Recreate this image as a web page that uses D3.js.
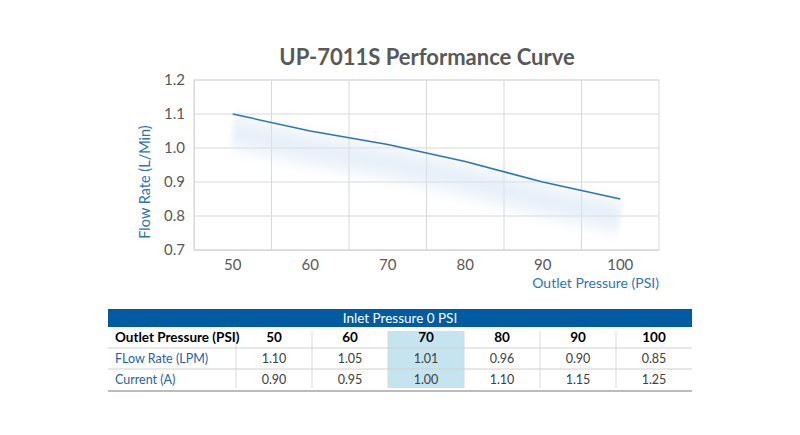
<!DOCTYPE html>
<html>
<head>
<meta charset="utf-8">
<script src="https://cdn.jsdelivr.net/npm/d3@7"></script>
<style>
  body { margin: 0; background: #fff; }
  text { font-family: Lato, "Open Sans", sans-serif; }
</style>
</head>
<body>
<svg id="chart" width="800" height="435"></svg>
<script>
// data
const pressures = [50, 60, 70, 80, 90, 100];
const flowRates = [1.10, 1.05, 1.01, 0.96, 0.90, 0.85];
const currents = [0.90, 0.95, 1.00, 1.10, 1.15, 1.25];
const yTicks = [0.7, 0.8, 0.9, 1.0, 1.1, 1.2];
const highlightPressure = 70;

const plot = {left: 194, right: 659, top: 80, bottom: 250};

const svg = d3.select('#chart');

// title
svg.append('text')
    .attr('x', 427).attr('y', 65)
    .attr('text-anchor', 'middle')
    .attr('font-size', 22).attr('font-weight', 'bold')
    .attr('fill', '#595959')
    .text('UP-7011S Performance Curve');

const x = d3.scaleBand()
    .domain(pressures)
    .range([plot.left, plot.right]);
const y = d3.scaleLinear()
    .domain([0.7, 1.2])
    .range([plot.bottom, plot.top]);
const cx = d => x(d) + x.bandwidth() / 2;

// gridlines
const g = svg.append('g');
g.selectAll('.hgrid')
    .data(yTicks)
    .enter().append('line')
    .attr('x1', plot.left).attr('x2', plot.right)
    .attr('y1', d => y(d)).attr('y2', d => y(d))
    .attr('stroke', '#d9d9d9');
g.selectAll('.vgrid')
    .data(pressures.slice(1))
    .enter().append('line')
    .attr('x1', d => x(d)).attr('x2', d => x(d))
    .attr('y1', plot.top).attr('y2', plot.bottom)
    .attr('stroke', '#d9d9d9');
g.append('rect')
    .attr('x', plot.left).attr('y', plot.top)
    .attr('width', plot.right - plot.left).attr('height', plot.bottom - plot.top)
    .attr('fill', 'none').attr('stroke', '#d9d9d9');

// axes
const yAxis = svg.append('g')
    .attr('transform', 'translate(' + plot.left + ',0)')
    .call(d3.axisLeft(y).tickValues(yTicks).tickFormat(d3.format('.1f')).tickSize(0).tickPadding(9));
const xAxis = svg.append('g')
    .attr('transform', 'translate(0,' + plot.bottom + ')')
    .call(d3.axisBottom(x).tickSize(0).tickPadding(9));
[yAxis, xAxis].forEach(a => {
  a.select('.domain').attr('stroke', '#d9d9d9');
  a.selectAll('text')
      .attr('font-size', 15).attr('fill', '#595959')
      .style('font-family', 'Lato, "Open Sans", sans-serif');
});

// axis titles
svg.append('text')
    .attr('x', plot.right).attr('y', 288)
    .attr('text-anchor', 'end')
    .attr('font-size', 14).attr('fill', '#2e75b6')
    .text('Outlet Pressure (PSI)');
svg.append('text')
    .attr('transform', 'translate(150,' + ((plot.top + plot.bottom) / 2 + 17) + ') rotate(-90)')
    .attr('text-anchor', 'middle')
    .attr('font-size', 14.5).attr('fill', '#2e75b6')
    .text('Flow Rate (L/Min)');

// soft shadow under the line
const defs = svg.append('defs');
defs.append('filter')
    .attr('id', 'shade')
    .attr('x', '-20%').attr('y', '-100%').attr('width', '140%').attr('height', '300%')
    .append('feGaussianBlur')
    .attr('stdDeviation', '2.5 8');

const line = d3.line()
    .x((d, i) => cx(pressures[i]))
    .y(d => y(d));

svg.append('path')
    .datum(flowRates)
    .attr('d', line)
    .attr('transform', 'translate(0,18)')
    .attr('fill', 'none')
    .attr('stroke', '#d6e5f5')
    .attr('stroke-width', 28)
    .attr('opacity', 0.6)
    .attr('filter', 'url(#shade)');

svg.append('path')
    .datum(flowRates)
    .attr('d', line)
    .attr('fill', 'none')
    .attr('stroke', '#2e75b6')
    .attr('stroke-width', 1.5);

// table
const tbl = {left: 108, right: 692, labelW: 128, top: 309, headH: 18, rowH: 21};
const colX = d3.scaleBand()
    .domain(pressures)
    .range([tbl.left + tbl.labelW, tbl.right]);
const rowY = i => tbl.top + tbl.headH + i * tbl.rowH;

const t = svg.append('g');
t.append('rect')
    .attr('x', tbl.left).attr('y', tbl.top)
    .attr('width', tbl.right - tbl.left).attr('height', tbl.headH)
    .attr('fill', '#005ba1');
t.append('text')
    .attr('x', (tbl.left + tbl.right) / 2).attr('y', tbl.top + 14)
    .attr('text-anchor', 'middle')
    .attr('font-size', 13.5).attr('fill', '#fff')
    .text('Inlet Pressure 0 PSI');

t.append('rect')
    .attr('x', colX(highlightPressure)).attr('y', rowY(0) + 4)
    .attr('width', colX.bandwidth()).attr('height', tbl.rowH * 3 - 6)
    .attr('fill', '#c5e4ef');

// vertical separators
const seps = [tbl.left + tbl.labelW].concat(pressures.slice(1).map(d => colX(d)));
t.selectAll('.vsep')
    .data(seps)
    .enter().append('line')
    .attr('x1', d => d).attr('x2', d => d)
    .attr('y1', rowY(0) + 4).attr('y2', rowY(3) - 2)
    .attr('stroke', '#d9d9d9');

// row separators
t.selectAll('.hsep')
    .data([1, 2])
    .enter().append('line')
    .attr('x1', tbl.left).attr('x2', tbl.right)
    .attr('y1', d => rowY(d)).attr('y2', d => rowY(d))
    .attr('stroke', '#d0d0d0');
t.append('line')
    .attr('x1', tbl.left).attr('x2', tbl.right)
    .attr('y1', rowY(3) + 1).attr('y2', rowY(3) + 1)
    .attr('stroke', '#a6a6a6').attr('stroke-width', 1.5);

const rows = [
  {label: 'Outlet Pressure (PSI)', values: pressures.map(String), bold: true, labelColor: '#000'},
  {label: 'FLow Rate (LPM)', values: flowRates.map(d3.format('.2f')), bold: false, labelColor: '#1f62ad'},
  {label: 'Current (A)', values: currents.map(d3.format('.2f')), bold: false, labelColor: '#1f62ad'}
];

rows.forEach((r, i) => {
  const baseY = rowY(i) + 15;
  t.append('text')
      .attr('x', tbl.left + 7).attr('y', baseY)
      .attr('font-size', r.bold ? 13.5 : 12.5)
      .attr('font-weight', r.bold ? 'bold' : 'normal')
      .attr('fill', r.labelColor)
      .text(r.label);
  t.selectAll('.cell' + i)
      .data(r.values)
      .enter().append('text')
      .attr('x', (d, j) => colX(pressures[j]) + colX.bandwidth() / 2)
      .attr('y', baseY)
      .attr('text-anchor', 'middle')
      .attr('font-size', r.bold ? 13.5 : 12.5)
      .attr('font-weight', r.bold ? 'bold' : 'normal')
      .attr('fill', r.bold ? '#000' : '#404040')
      .text(d => d);
});
</script>
</body>
</html>
